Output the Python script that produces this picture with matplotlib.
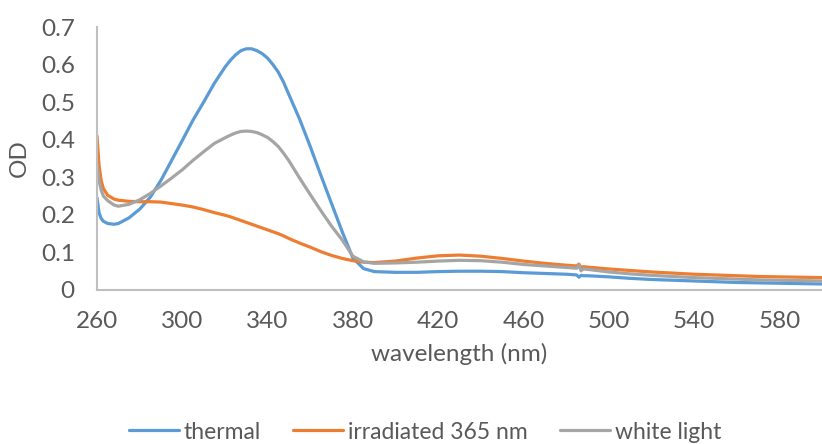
import matplotlib
matplotlib.use("Agg")
import matplotlib.pyplot as plt

# Absorbance spectra (optical density) versus wavelength in nm
wavelength = [260, 261, 262, 263, 265, 268, 270, 275, 280, 285, 290, 295, 300, 305,
              310, 315, 320, 322.5, 325, 327.5, 330, 332.5, 335, 337.5, 340, 342.5,
              345, 347.5, 350, 355, 360, 365, 370, 375,
              380, 385, 390, 400, 410, 420, 430, 440, 450, 460, 470, 480, 485, 486,
              487, 488, 490, 500, 510, 520, 530, 540, 550, 560, 570, 580, 590, 600]

thermal = [0.245, 0.205, 0.190, 0.183, 0.177, 0.175, 0.177, 0.192, 0.215, 0.247,
           0.292, 0.345, 0.398, 0.452, 0.500, 0.550, 0.593, 0.611, 0.626, 0.637,
           0.642, 0.642, 0.637, 0.629, 0.617, 0.600, 0.580, 0.553, 0.520,
           0.455, 0.382, 0.305, 0.230, 0.155, 0.085, 0.057,
           0.049, 0.047, 0.047, 0.049, 0.050, 0.050, 0.049, 0.046, 0.044, 0.042,
           0.040, 0.034, 0.039, 0.038, 0.038, 0.035, 0.031, 0.028, 0.026, 0.024,
           0.022, 0.020, 0.019, 0.018, 0.017, 0.016]

irradiated = [0.410, 0.330, 0.290, 0.270, 0.252, 0.242, 0.239, 0.236, 0.235, 0.235,
              0.234, 0.230, 0.226, 0.221, 0.214, 0.206, 0.199, 0.195, 0.190, 0.185,
              0.180, 0.175, 0.170, 0.165, 0.160, 0.155, 0.150, 0.144, 0.137,
              0.125, 0.114, 0.102, 0.092, 0.084, 0.078, 0.074,
              0.073, 0.077, 0.085, 0.091, 0.093, 0.090, 0.084, 0.077, 0.071, 0.066,
              0.064, 0.069, 0.060, 0.062, 0.061, 0.056, 0.052, 0.048, 0.045, 0.042,
              0.040, 0.038, 0.036, 0.035, 0.034, 0.033]

white_light = [0.335, 0.290, 0.265, 0.250, 0.238, 0.226, 0.223, 0.228, 0.240, 0.257,
               0.277, 0.298, 0.320, 0.345, 0.368, 0.390, 0.405, 0.412, 0.418, 0.422,
               0.423, 0.422, 0.419, 0.413, 0.406, 0.395, 0.382, 0.364, 0.344,
               0.298, 0.254, 0.211, 0.170, 0.133, 0.090, 0.075,
               0.071, 0.072, 0.074, 0.077, 0.079, 0.078, 0.074, 0.068, 0.064, 0.060,
               0.058, 0.067, 0.051, 0.056, 0.055, 0.048, 0.043, 0.039, 0.036, 0.033,
               0.031, 0.029, 0.027, 0.026, 0.025, 0.024]

series_labels = ["thermal", "irradiated 365 nm", "white light"]
series_colors = ["#5B9BD5", "#ED7D31", "#A5A5A5"]

x_ticks = [260, 300, 340, 380, 420, 460, 500, 540, 580]
y_ticks = [0, 0.1, 0.2, 0.3, 0.4, 0.5, 0.6, 0.7]
y_tick_labels = ["0", "0.1", "0.2", "0.3", "0.4", "0.5", "0.6", "0.7"]

plt.rcParams["font.family"] = ["Lato", "DejaVu Sans"]
text_color = "#595959"
axis_color = "#BFBFBF"

fig = plt.figure(figsize=(8.22, 4.44), dpi=100)
ax = fig.add_axes([97 / 822, 154 / 444, 725 / 822, 263 / 444])

for values, label, color in zip([thermal, irradiated, white_light], series_labels, series_colors):
    ax.plot(wavelength, values, color=color, lw=2.3, label=label,
            solid_capstyle="round", solid_joinstyle="round")

ax.set_xlim(260, 600)
ax.set_ylim(0, 0.7)
ax.set_xticks(x_ticks)
ax.set_yticks(y_ticks)
ax.set_yticklabels(y_tick_labels)

for side in ["top", "right"]:
    ax.spines[side].set_visible(False)
for side in ["left", "bottom"]:
    ax.spines[side].set_color(axis_color)
    ax.spines[side].set_linewidth(1.5)

ax.tick_params(axis="both", length=0, labelsize=17.5, labelcolor=text_color)
ax.tick_params(axis="y", pad=16)
ax.tick_params(axis="x", pad=15)

ax.set_xlabel("wavelength (nm)", fontsize=17.5, color=text_color, labelpad=8)
ax.set_ylabel("OD", fontsize=17.5, color=text_color, labelpad=8)

fig.legend(loc="center", bbox_to_anchor=(425 / 822, 1 - 432 / 444), ncol=3,
           frameon=False, fontsize=16.5, labelcolor=text_color,
           handlelength=2.2, handletextpad=0.2, columnspacing=1.4)

fig.savefig("out.png", dpi=100)
